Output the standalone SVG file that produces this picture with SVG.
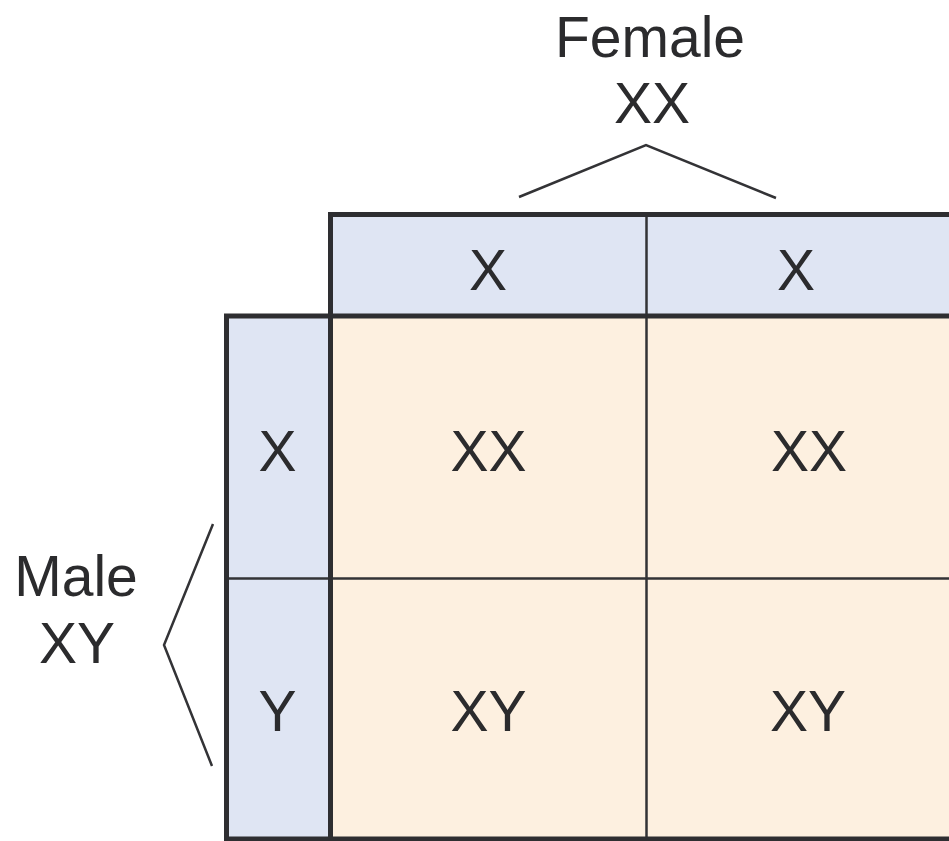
<svg xmlns="http://www.w3.org/2000/svg" width="949" height="841" viewBox="0 0 949 841">
<style>
text{font-family:"Liberation Sans",Arial,sans-serif;font-size:57px;fill:#2b2b2d;text-anchor:middle}
.thick{fill:none;stroke:#2e2e31;stroke-width:5;stroke-linejoin:miter}
.thin{fill:none;stroke:#333336;stroke-width:2.5}
.blue{fill:#dfe5f3}
.cream{fill:#fdf0e0}
</style>
<rect width="949" height="841" fill="#ffffff"/>
<g id="cells">
<rect class="cream" x="330" y="316" width="630" height="523"/>
</g>
<g id="header-female">
<rect class="blue" x="330" y="214" width="630" height="102"/>
<text x="488" y="290">X</text>
<text x="796" y="290">X</text>
</g>
<g id="header-male">
<rect class="blue" x="226" y="316" width="104" height="523"/>
<text x="277.5" y="471">X</text>
<text x="277.5" y="731">Y</text>
</g>
<g id="cell-xx-1"><text x="488.5" y="471">XX</text></g>
<g id="cell-xx-2"><text x="809" y="471">XX</text></g>
<g id="cell-xy-1"><text x="488.5" y="731">XY</text></g>
<g id="cell-xy-2"><text x="808" y="731">XY</text></g>
<g id="grid">
<path class="thin" d="M646.5,214.5 V839 M226.5,578.5 H960"/>
<path class="thick" d="M960,214.5 H330.5 V839 M960,316 H226.5 V839 H960"/>
</g>
<g id="label-female">
<text x="650" y="57">Female</text>
<text x="652" y="123">XX</text>
</g>
<g id="label-male">
<text x="76" y="596">Male</text>
<text x="77" y="663">XY</text>
</g>
<g id="connectors">
<polyline class="thin" points="519,197 646,145 776,198"/>
<polyline class="thin" points="213,524 164,645 212,766"/>
</g>
</svg>
